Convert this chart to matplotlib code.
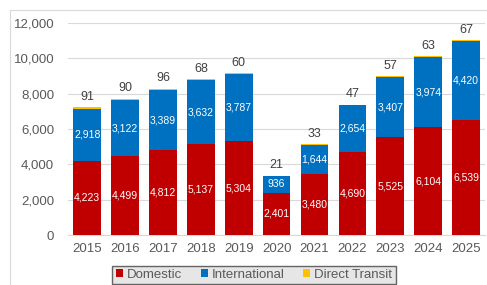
import numpy as np
import matplotlib.pyplot as plt
from matplotlib.patches import Rectangle

years = ['2015', '2016', '2017', '2018', '2019', '2020', '2021', '2022', '2023', '2024', '2025']
domestic = [4223, 4499, 4812, 5137, 5304, 2401, 3480, 4690, 5525, 6104, 6539]
international = [2918, 3122, 3389, 3632, 3787, 936, 1644, 2654, 3407, 3974, 4420]
transit = [91, 90, 96, 68, 60, 21, 33, 47, 57, 63, 67]

plt.rcParams['font.family'] = ['Liberation Sans', 'DejaVu Sans']

fig = plt.figure(figsize=(4.87, 2.85), dpi=100)
# light outer frame
fig.patches.append(Rectangle((10 / 487, -0.1), 1.2, 1 - 10 / 285 + 0.1, transform=fig.transFigure,
                             fill=False, edgecolor='#d9d9d9', linewidth=0.8))
ax = fig.add_axes([0.140, 0.175, 0.856, 0.744])

x = np.arange(len(years))
w = 0.73
dom = np.array(domestic)
intl = np.array(international)
tr = np.array(transit)

ax.bar(x, dom, w, color='#C00000', label='Domestic', zorder=3)
ax.bar(x, intl, w, bottom=dom, color='#0070C0', label='International', zorder=3)
ax.bar(x, tr, w, bottom=dom + intl, color='#FFC000', label='Direct Transit', zorder=3)

for i in range(len(x)):
    ax.text(x[i], dom[i] / 2, f'{dom[i]:,}', ha='center', va='center', color='white', fontsize=7.5, zorder=4)
    ax.text(x[i], dom[i] + intl[i] / 2, f'{intl[i]:,}', ha='center', va='center', color='white', fontsize=7.5, zorder=4)
    ax.text(x[i], dom[i] + intl[i] + tr[i] + 250, f'{tr[i]}', ha='center', va='bottom', color='#404040', fontsize=9, zorder=4)

ax.set_xlim(-0.5, 10.5)
ax.set_ylim(0, 12000)
ax.set_yticks(range(0, 12001, 2000))
ax.set_yticklabels([f'{v:,}' for v in range(0, 12001, 2000)])
ax.set_xticks(x)
ax.set_xticklabels(years)
ax.tick_params(axis='both', length=0, labelsize=9.5, colors='#595959')
ax.tick_params(axis='y', pad=10)
ax.tick_params(axis='x', pad=6)
ax.grid(axis='y', color='#d9d9d9', linewidth=0.8, zorder=0)
for s in ['top', 'right', 'left']:
    ax.spines[s].set_visible(False)
ax.spines['bottom'].set_color('#d9d9d9')

leg = fig.legend(loc='center', bbox_to_anchor=(254 / 487, 1 - 275 / 285), ncol=3, fontsize=9.5,
                 handlelength=0.55, handleheight=0.55, handletextpad=0.3, columnspacing=1.4,
                 frameon=True, fancybox=False, borderpad=0.25)
leg.get_frame().set_facecolor('#e0e0e0')
leg.get_frame().set_edgecolor('#404040')
leg.get_frame().set_linewidth(1.0)
for t in leg.get_texts():
    t.set_color('#595959')

fig.savefig('out.png', dpi=100)
